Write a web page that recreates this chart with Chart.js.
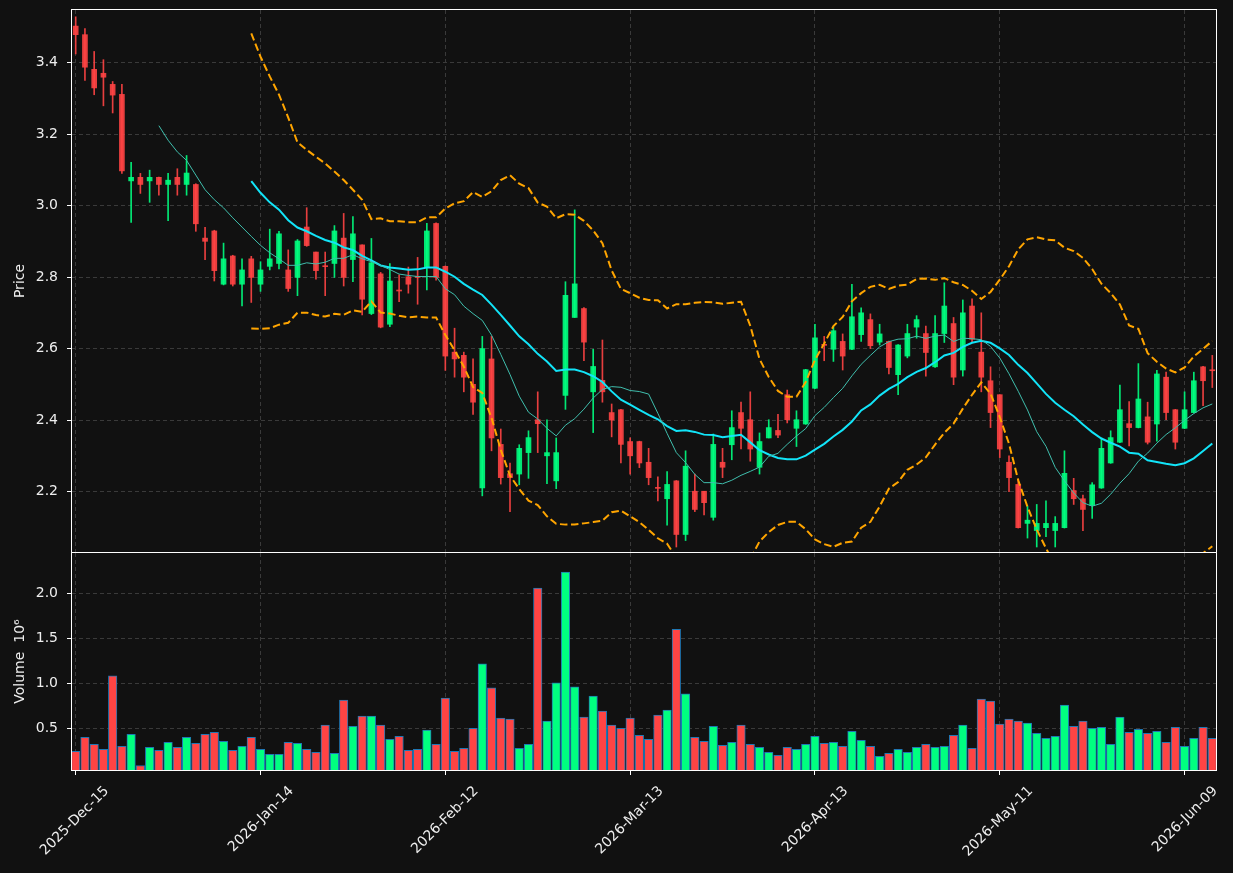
<!DOCTYPE html>
<html>
<head>
<meta charset="utf-8">
<title>Price and volume</title>
<script src="https://cdn.jsdelivr.net/npm/chart.js@4.4.1/dist/chart.umd.min.js"></script>
<style>
  html, body { margin: 0; padding: 0; background: #111111; }
  #wrap { position: relative; width: 1233px; height: 873px; }
  #wrap canvas { position: absolute; left: 0; top: 0; }
</style>
</head>
<body>
<div id="wrap">
  <canvas id="priceChart" width="1233" height="873"></canvas>
  <canvas id="volumeChart" width="1233" height="873"></canvas>
</div>
<script>
// ---- data (one entry per trading day) ----
const opens = [
  3.502, 3.478, 3.381, 3.370, 3.339, 3.311, 3.069, 3.079, 3.069, 3.079,
  3.059, 3.079, 3.059, 3.059, 2.909, 2.929, 2.780, 2.859, 2.780, 2.851,
  2.780, 2.830, 2.838, 2.820, 2.799, 2.940, 2.870, 2.831, 2.838, 2.909,
  2.849, 2.890, 2.698, 2.809, 2.668, 2.763, 2.801, 2.802, 2.828, 2.950,
  2.830, 2.590, 2.581, 2.500, 2.210, 2.571, 2.332, 2.250, 2.249, 2.309,
  2.401, 2.300, 2.230, 2.469, 2.687, 2.712, 2.479, 2.511, 2.421, 2.429,
  2.340, 2.340, 2.282, 2.211, 2.180, 2.230, 2.080, 2.201, 2.201, 2.128,
  2.282, 2.331, 2.421, 2.401, 2.268, 2.350, 2.371, 2.471, 2.377, 2.389,
  2.489, 2.611, 2.598, 2.620, 2.598, 2.639, 2.681, 2.618, 2.620, 2.527,
  2.579, 2.660, 2.642, 2.549, 2.642, 2.670, 2.540, 2.719, 2.590, 2.510,
  2.471, 2.282, 2.220, 2.111, 2.091, 2.099, 2.091, 2.099, 2.203, 2.180,
  2.161, 2.210, 2.280, 2.338, 2.390, 2.379, 2.409, 2.389, 2.520, 2.429,
  2.377, 2.421, 2.549, 2.540
];
const highs = [
  3.528, 3.495, 3.431, 3.408, 3.347, 3.339, 3.121, 3.090, 3.099, 3.080,
  3.090, 3.103, 3.140, 3.061, 2.939, 2.931, 2.895, 2.861, 2.851, 2.858,
  2.843, 2.934, 2.928, 2.876, 2.905, 2.994, 2.870, 2.870, 2.944, 2.978,
  2.969, 2.890, 2.908, 2.813, 2.838, 2.806, 2.828, 2.855, 2.950, 2.952,
  2.831, 2.657, 2.590, 2.571, 2.634, 2.634, 2.375, 2.280, 2.331, 2.370,
  2.479, 2.401, 2.350, 2.787, 2.988, 2.715, 2.598, 2.624, 2.445, 2.430,
  2.350, 2.341, 2.321, 2.241, 2.256, 2.231, 2.314, 2.249, 2.201, 2.361,
  2.321, 2.426, 2.450, 2.479, 2.364, 2.401, 2.416, 2.484, 2.426, 2.542,
  2.668, 2.634, 2.661, 2.641, 2.780, 2.714, 2.697, 2.668, 2.621, 2.611,
  2.668, 2.692, 2.663, 2.692, 2.784, 2.687, 2.736, 2.739, 2.700, 2.549,
  2.471, 2.300, 2.235, 2.159, 2.164, 2.174, 2.130, 2.314, 2.237, 2.190,
  2.225, 2.350, 2.370, 2.498, 2.452, 2.558, 2.450, 2.539, 2.534, 2.430,
  2.479, 2.534, 2.550, 2.581
];
const lows = [
  3.424, 3.350, 3.310, 3.279, 3.259, 3.090, 2.953, 3.034, 3.009, 3.029,
  2.958, 3.029, 3.029, 2.928, 2.849, 2.789, 2.778, 2.775, 2.719, 2.729,
  2.760, 2.820, 2.823, 2.760, 2.748, 2.886, 2.794, 2.748, 2.799, 2.775,
  2.787, 2.694, 2.695, 2.658, 2.661, 2.731, 2.755, 2.724, 2.764, 2.791,
  2.539, 2.520, 2.479, 2.416, 2.188, 2.314, 2.221, 2.144, 2.219, 2.237,
  2.309, 2.222, 2.208, 2.430, 2.687, 2.566, 2.365, 2.450, 2.353, 2.280,
  2.249, 2.267, 2.219, 2.174, 2.106, 2.045, 2.063, 2.144, 2.135, 2.120,
  2.239, 2.289, 2.319, 2.285, 2.249, 2.350, 2.351, 2.392, 2.326, 2.388,
  2.488, 2.566, 2.564, 2.540, 2.597, 2.620, 2.600, 2.610, 2.529, 2.471,
  2.574, 2.629, 2.523, 2.547, 2.617, 2.499, 2.523, 2.617, 2.479, 2.379,
  2.295, 2.200, 2.098, 2.070, 2.045, 2.074, 2.045, 2.098, 2.164, 2.091,
  2.125, 2.209, 2.279, 2.337, 2.328, 2.378, 2.333, 2.341, 2.401, 2.319,
  2.376, 2.420, 2.440, 2.491
];
const closes = [
  3.478, 3.387, 3.329, 3.359, 3.309, 3.097, 3.079, 3.059, 3.079, 3.059,
  3.071, 3.059, 3.091, 2.949, 2.900, 2.818, 2.851, 2.780, 2.820, 2.799,
  2.820, 2.851, 2.921, 2.768, 2.901, 2.888, 2.818, 2.829, 2.929, 2.799,
  2.921, 2.738, 2.840, 2.660, 2.789, 2.761, 2.780, 2.799, 2.929, 2.799,
  2.579, 2.571, 2.520, 2.450, 2.600, 2.350, 2.239, 2.239, 2.321, 2.351,
  2.390, 2.309, 2.309, 2.749, 2.781, 2.618, 2.550, 2.479, 2.400, 2.332,
  2.300, 2.280, 2.239, 2.209, 2.220, 2.080, 2.271, 2.150, 2.169, 2.332,
  2.268, 2.379, 2.377, 2.319, 2.340, 2.379, 2.358, 2.401, 2.401, 2.541,
  2.630, 2.609, 2.650, 2.579, 2.689, 2.700, 2.608, 2.641, 2.547, 2.610,
  2.642, 2.681, 2.589, 2.642, 2.719, 2.520, 2.700, 2.626, 2.520, 2.421,
  2.319, 2.239, 2.099, 2.120, 2.111, 2.111, 2.111, 2.251, 2.180, 2.150,
  2.219, 2.321, 2.351, 2.429, 2.379, 2.459, 2.338, 2.529, 2.421, 2.338,
  2.429, 2.510, 2.510, 2.538
];
// volume in millions of shares (axis shows 10^6)
const volumes = [
  0.243, 0.399, 0.321, 0.265, 1.082, 0.299, 0.433, 0.086, 0.287, 0.254,
  0.343, 0.287, 0.399, 0.332, 0.433, 0.455, 0.354, 0.254, 0.299, 0.399,
  0.265, 0.209, 0.209, 0.343, 0.332, 0.265, 0.231, 0.534, 0.220, 0.813,
  0.522, 0.634, 0.634, 0.534, 0.377, 0.410, 0.254, 0.265, 0.478, 0.321,
  0.836, 0.243, 0.276, 0.500, 1.216, 0.948, 0.612, 0.601, 0.276, 0.321,
  2.056, 0.578, 1.004, 2.235, 0.959, 0.623, 0.858, 0.690, 0.534, 0.500,
  0.612, 0.422, 0.377, 0.646, 0.701, 1.597, 0.881, 0.399, 0.354, 0.522,
  0.310, 0.343, 0.534, 0.321, 0.287, 0.231, 0.198, 0.287, 0.265, 0.321,
  0.410, 0.332, 0.343, 0.299, 0.466, 0.366, 0.299, 0.187, 0.220, 0.265,
  0.231, 0.287, 0.321, 0.287, 0.299, 0.422, 0.534, 0.276, 0.825, 0.802,
  0.545, 0.601, 0.578, 0.556, 0.444, 0.388, 0.410, 0.757, 0.522, 0.578,
  0.500, 0.511, 0.321, 0.623, 0.455, 0.489, 0.444, 0.466, 0.343, 0.511,
  0.299, 0.388, 0.511, 0.388
];
const tickPositions = [0, 20, 40, 60, 80, 100, 120];
const tickLabels = ['2025-Dec-15', '2026-Jan-14', '2026-Feb-12', '2026-Mar-13',
                    '2026-Apr-13', '2026-May-11', '2026-Jun-09'];
const priceTicks = [2.2, 2.4, 2.6, 2.8, 3.0, 3.2, 3.4];
const volumeTicks = [0.5, 1.0, 1.5, 2.0];

// ---- look ----
const UP = 'rgba(0,255,128,0.9)';
const DOWN = 'rgba(255,68,68,0.9)';
const VOL_UP = '#00ff80';
const VOL_DOWN = '#ff4444';
const GRID = '#3a3a3a';
const TEXT = '#eeeeee';

Chart.defaults.font.family = '"DejaVu Sans", sans-serif';
Chart.defaults.font.size = 14;
Chart.defaults.color = TEXT;

const isUp = i => closes[i] >= opens[i];

// moving average / bollinger bands from the closes
function sma(values, n) {
  const out = [];
  for (let i = n - 1; i < values.length; i++) {
    let s = 0;
    for (let j = i - n + 1; j <= i; j++) s += values[j];
    out.push({ x: i, y: s / n });
  }
  return out;
}
function band(values, n, k) {
  const mid = sma(values, n);
  return mid.map(p => {
    let v = 0;
    for (let j = p.x - n + 1; j <= p.x; j++) v += (values[j] - p.y) ** 2;
    return { x: p.x, y: p.y + k * Math.sqrt(v / n) };
  });
}

const framePlugin = {
  id: 'frame',
  afterDraw(chart) {
    const { ctx, chartArea: a } = chart;
    ctx.save();
    ctx.strokeStyle = '#ffffff';
    ctx.lineWidth = 1;
    ctx.strokeRect(a.left - 0.5, a.top - 0.5, a.right - a.left + 1, a.bottom - a.top + 1);
    ctx.restore();
  }
};

const xMin = -0.4, xMax = 123.4;

function xScale(showLabels) {
  return {
    type: 'linear',
    min: xMin,
    max: xMax,
    offset: false,
    afterBuildTicks: s => { s.ticks = tickPositions.map(v => ({ value: v })); },
    afterFit: s => {
      s.height = showLabels ? 103 : 0;
      s.paddingLeft = 0;
      s.paddingRight = 0;
    },
    grid: {
      display: true, offset: false, color: GRID, lineWidth: 1, borderDash: [4, 3],
      drawTicks: showLabels, tickLength: 5, tickColor: '#ffffff', tickBorderDash: []
    },
    border: { display: false, dash: [4, 3] },
    ticks: {
      display: showLabels,
      autoSkip: false,
      maxRotation: 45,
      minRotation: 45,
      labelOffset: 31,
      padding: 8,
      callback: v => tickLabels[tickPositions.indexOf(v)] || ''
    }
  };
}

function yScale(min, max, ticks, title) {
  return {
    type: 'linear',
    min: min,
    max: max,
    afterBuildTicks: s => { s.ticks = ticks.map(v => ({ value: v })); },
    afterFit: s => {
      s.width = 72;
      s.paddingTop = 0;
      s.paddingBottom = 0;
    },
    grid: {
      color: GRID, lineWidth: 1, borderDash: [4, 3],
      drawTicks: true, tickLength: 5, tickColor: '#ffffff', tickBorderDash: []
    },
    border: { display: false, dash: [4, 3] },
    ticks: { padding: 9, callback: v => Number(v).toFixed(1) },
    title: { display: true, text: title, color: TEXT, font: { size: 14 }, padding: { top: 12, bottom: 0 } }
  };
}

const baseOptions = {
  responsive: false,
  animation: false,
  events: [],
  plugins: { legend: { display: false }, tooltip: { enabled: false } }
};

// ---- price panel ----
new Chart(document.getElementById('priceChart'), {
  type: 'bar',
  data: {
    datasets: [
      { type: 'line', data: sma(closes, 10), borderColor: '#40bfae', borderWidth: 1,
        pointRadius: 0, order: 0 },
      { type: 'line', data: sma(closes, 20), borderColor: '#12e4f8', borderWidth: 2,
        pointRadius: 0, order: 0 },
      { type: 'line', data: band(closes, 20, 2), borderColor: '#ffa500', borderWidth: 2,
        borderDash: [7.5, 3.5], pointRadius: 0, order: 0 },
      { type: 'line', data: band(closes, 20, -2), borderColor: '#ffa500', borderWidth: 2,
        borderDash: [7.5, 3.5], pointRadius: 0, order: 0 },
      { data: lows.map((l, i) => ({ x: i, y: [l, highs[i]] })), grouped: false,
        barThickness: 1, backgroundColor: c => isUp(c.dataIndex) ? UP : DOWN, order: 2 },
      { data: opens.map((o, i) => ({ x: i, y: [o, closes[i]] })), grouped: false,
        barThickness: 5, minBarLength: 1,
        backgroundColor: c => isUp(c.dataIndex) ? UP : DOWN, order: 1 }
    ]
  },
  options: Object.assign({}, baseOptions, {
    layout: { padding: { left: 0, top: 10, right: 17, bottom: 321 } },
    scales: {
      x: xScale(false),
      y: yScale(2.031, 3.547, priceTicks, 'Price')
    }
  }),
  plugins: [framePlugin]
});

// ---- volume panel ----
new Chart(document.getElementById('volumeChart'), {
  type: 'bar',
  data: {
    datasets: [{
      data: volumes.map((v, i) => ({ x: i, y: v })),
      grouped: false,
      barThickness: 8.5,
      backgroundColor: c => isUp(c.dataIndex) ? VOL_UP : VOL_DOWN,
      borderColor: '#1f77b4',
      borderWidth: 1
    }]
  },
  options: Object.assign({}, baseOptions, {
    layout: { padding: { left: 0, top: 553, right: 17, bottom: 0 } },
    scales: {
      x: xScale(true),
      y: yScale(0.036, 2.446, volumeTicks, 'Volume  10\u2076')
    }
  }),
  plugins: [framePlugin]
});
</script>
</body>
</html>
